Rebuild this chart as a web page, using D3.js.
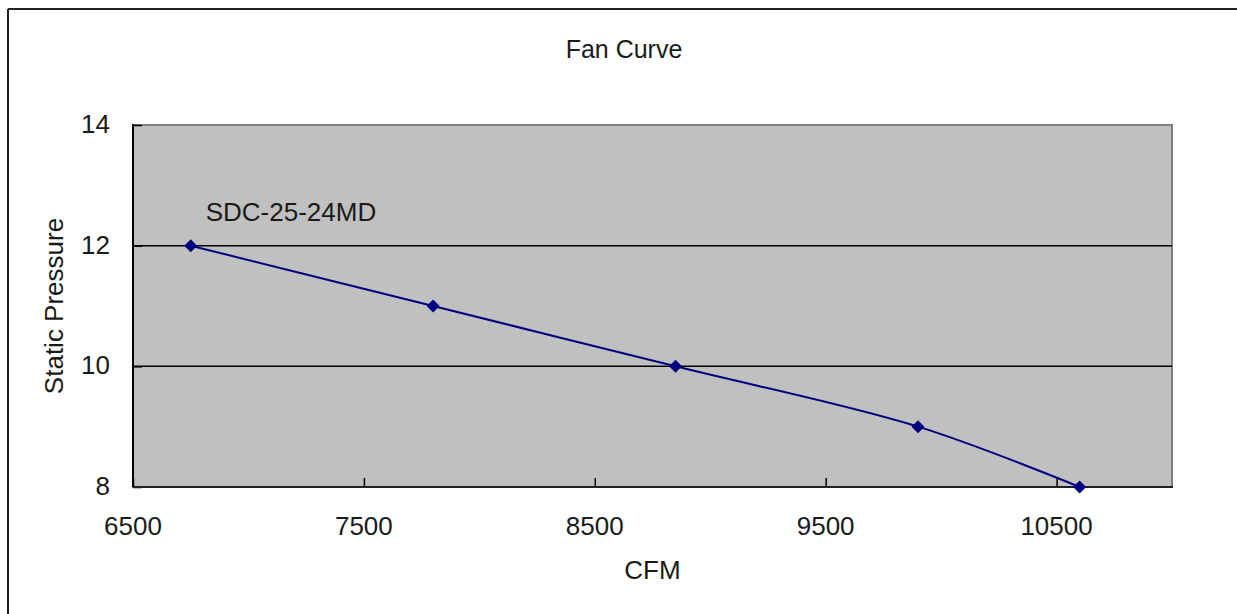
<!DOCTYPE html>
<html>
<head>
<meta charset="utf-8">
<script src="https://cdn.jsdelivr.net/npm/d3@7"></script>
<style>
  html, body { margin: 0; background: #fff; overflow: hidden; }
  svg { display: block; }
  svg text { font-family: "Liberation Sans", Arial, sans-serif; fill: #1a1a1a; }
</style>
</head>
<body>
<div id="chart"></div>
<script>
// Fan curve data
const cfm = [6750, 7800, 8850, 9900, 10600]
const pressure = [12, 11, 10, 9, 8]
const xTicks = [6500, 7500, 8500, 9500, 10500]
const yTicks = [8, 10, 12, 14]
const seriesName = "SDC-25-24MD"

const width = 1237
const height = 614
const plot = { left: 133, right: 1172, top: 125, bottom: 487 }

let svg = d3.select("#chart")
    .append("svg")
    .attr("width", width)
    .attr("height", height)

// outer chart frame (only top and left show in the picture)
svg.append("line").attr("x1", 8).attr("x2", 1237).attr("y1", 9).attr("y2", 9)
    .attr("stroke", "#222").attr("stroke-width", 2)
svg.append("line").attr("x1", 8).attr("x2", 8).attr("y1", 9).attr("y2", 614)
    .attr("stroke", "#222").attr("stroke-width", 2)

let xScale = d3.scaleLinear()
    .domain([6500, 11000])
    .range([plot.left, plot.right])

let yScale = d3.scaleLinear()
    .domain([8, 14])
    .range([plot.bottom, plot.top])

// plot background with grey top/right border
svg.append("rect")
    .attr("x", plot.left)
    .attr("y", plot.top)
    .attr("width", plot.right - plot.left)
    .attr("height", plot.bottom - plot.top)
    .attr("fill", "#c0c0c0")
    .attr("stroke", "#808080")
    .attr("stroke-width", 2)

// horizontal gridlines
svg.append("g")
    .selectAll("line")
    .data(yTicks.filter(d => d > 8 && d < 14)).enter()
    .append("line")
    .attr("x1", plot.left)
    .attr("x2", plot.right)
    .attr("y1", d => yScale(d))
    .attr("y2", d => yScale(d))
    .attr("stroke", "#000")
    .attr("stroke-width", 1.5)

// axes, ticks pointing inward
let xAxis = d3.axisTop(xScale).tickValues(xTicks).tickSize(9).tickFormat("")
let yAxis = d3.axisRight(yScale).tickValues(yTicks).tickSize(9).tickFormat("")

let gx = svg.append("g")
    .attr("transform", `translate(0,${plot.bottom})`)
    .call(xAxis)
gx.select(".domain").remove()
gx.selectAll("line").attr("stroke", "#000").attr("stroke-width", 1.5)

let gy = svg.append("g")
    .attr("transform", `translate(${plot.left},0)`)
    .call(yAxis)
gy.select(".domain").remove()
gy.selectAll("line").attr("stroke", "#000").attr("stroke-width", 1.5)

svg.append("line")
    .attr("x1", plot.left).attr("x2", plot.right + 1)
    .attr("y1", plot.bottom).attr("y2", plot.bottom)
    .attr("stroke", "#222").attr("stroke-width", 2)
svg.append("line")
    .attr("x1", plot.left).attr("x2", plot.left)
    .attr("y1", plot.top - 1).attr("y2", plot.bottom)
    .attr("stroke", "#000").attr("stroke-width", 2)

// tick labels
svg.append("g")
    .selectAll("text")
    .data(xTicks).enter()
    .append("text")
    .attr("x", d => xScale(d))
    .attr("y", 535)
    .attr("text-anchor", "middle")
    .style("font-size", "26px")
    .text(d => d)

svg.append("g")
    .selectAll("text")
    .data(yTicks).enter()
    .append("text")
    .attr("x", 110)
    .attr("y", d => yScale(d) + 8)
    .attr("text-anchor", "end")
    .style("font-size", "26px")
    .text(d => d)

// titles
svg.append("text")
    .attr("x", 624)
    .attr("y", 58)
    .attr("text-anchor", "middle")
    .style("font-size", "25px")
    .text("Fan Curve")

svg.append("text")
    .attr("x", (plot.left + plot.right) / 2)
    .attr("y", 579)
    .attr("text-anchor", "middle")
    .style("font-size", "26px")
    .text("CFM")

svg.append("text")
    .attr("transform", `translate(63,${(plot.top + plot.bottom) / 2}) rotate(-90)`)
    .attr("text-anchor", "middle")
    .style("font-size", "26px")
    .text("Static Pressure")

// series
let points = cfm.map((c, i) => ({ x: c, y: pressure[i] }))

let line = d3.line()
    .x(d => xScale(d.x))
    .y(d => yScale(d.y))
    .curve(d3.curveCatmullRom.alpha(0.5))

svg.append("path")
    .datum(points)
    .attr("d", line)
    .attr("fill", "none")
    .attr("stroke", "#000080")
    .attr("stroke-width", 2)

svg.append("g")
    .selectAll("path")
    .data(points).enter()
    .append("path")
    .attr("transform", d => `translate(${xScale(d.x)},${yScale(d.y)})`)
    .attr("d", "M0,-6.5L6.5,0L0,6.5L-6.5,0Z")
    .attr("fill", "#000080")

// data label on first point
svg.append("text")
    .attr("x", xScale(cfm[0]) + 15)
    .attr("y", yScale(pressure[0]) - 25)
    .style("font-size", "26px")
    .text(seriesName)
</script>
</body>
</html>
